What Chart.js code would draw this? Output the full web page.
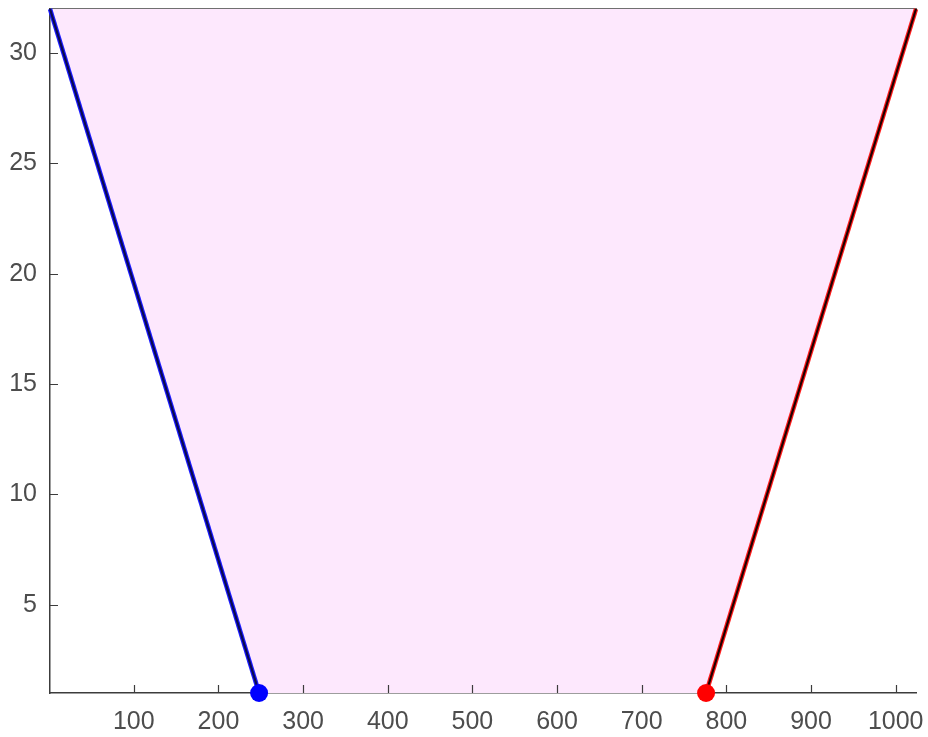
<!DOCTYPE html>
<html>
<head>
<meta charset="utf-8">
<script src="https://cdn.jsdelivr.net/npm/chart.js@4"></script>
<style>
  html, body { margin: 0; padding: 0; background: #fff; }
  #wrap { width: 928px; height: 737px; }
</style>
</head>
<body>
<div id="wrap"><canvas id="c" width="928" height="737"></canvas></div>
<script>
// x/y of the two edges of the shaded region
const leftEdgeX = [1, 248];
const leftEdgeY = [32, 1];
const rightEdgeX = [776, 1024];
const rightEdgeY = [1, 32];
const xTicks = [100, 200, 300, 400, 500, 600, 700, 800, 900, 1000];
const yTicks = [5, 10, 15, 20, 25, 30];
const xRange = [1, 1024];
const yRange = [1, 32];

const pts = (xs, ys) => xs.map((x, i) => ({ x, y: ys[i] }));
const regionPts = pts(leftEdgeX.concat(rightEdgeX), leftEdgeY.concat(rightEdgeY));

// short tick marks pointing into the plot, like the original
const innerTicks = {
  id: 'innerTicks',
  afterDatasetsDraw(chart) {
    const { ctx, scales: { x, y } } = chart;
    ctx.save();
    ctx.strokeStyle = '#3c3c3c';
    ctx.lineWidth = 1.2;
    ctx.beginPath();
    xTicks.forEach(v => {
      const px = Math.round(x.getPixelForValue(v)) + 0.5;
      ctx.moveTo(px, y.bottom);
      ctx.lineTo(px, y.bottom - 8);
    });
    yTicks.forEach(v => {
      const py = Math.round(y.getPixelForValue(v)) + 0.5;
      ctx.moveTo(x.left, py);
      ctx.lineTo(x.left + 8, py);
    });
    ctx.stroke();
    ctx.restore();
  }
};

const axisFont = { family: '"Liberation Sans", Arial, sans-serif', size: 25 };
const noPad = s => { s.paddingLeft = 0; s.paddingRight = 0; s.paddingTop = 0; s.paddingBottom = 0; };

new Chart(document.getElementById('c'), {
  type: 'scatter',
  data: {
    datasets: [
      // dots at the lower ends
      { data: [{ x: leftEdgeX[1], y: leftEdgeY[1] }], pointRadius: 9, pointBackgroundColor: '#0000ff', pointBorderWidth: 0, clip: false },
      { data: [{ x: rightEdgeX[0], y: rightEdgeY[0] }], pointRadius: 9, pointBackgroundColor: '#ff0000', pointBorderWidth: 0, clip: false },
      // dark core of the edges
      { data: pts(leftEdgeX, leftEdgeY), showLine: true, borderColor: '#0a0a50', borderWidth: 2.2, pointRadius: 0, clip: false },
      { data: pts(rightEdgeX, rightEdgeY), showLine: true, borderColor: '#200000', borderWidth: 2.2, pointRadius: 0, clip: false },
      // coloured halo of the edges
      { data: pts(leftEdgeX, leftEdgeY), showLine: true, borderColor: '#1a1aff', borderWidth: 4.5, pointRadius: 0, clip: false },
      { data: pts(rightEdgeX, rightEdgeY), showLine: true, borderColor: '#ff1a1a', borderWidth: 4.5, pointRadius: 0, clip: false },
      // shaded region
      { data: regionPts, showLine: true, borderWidth: 0, borderColor: 'rgba(0,0,0,0)', pointRadius: 0,
        backgroundColor: 'rgb(253,232,253)', fill: { value: yRange[1] } }
    ]
  },
  options: {
    responsive: false,
    animation: false,
    layout: { padding: { top: 9, right: 12, left: 0, bottom: 0 } },
    plugins: { legend: { display: false }, tooltip: { enabled: false } },
    scales: {
      x: {
        type: 'linear',
        min: xRange[0], max: xRange[1],
        afterBuildTicks: s => { s.ticks = xTicks.map(v => ({ value: v })); },
        afterFit: s => { s.height = 44; noPad(s); },
        grid: { display: false, drawTicks: false },
        border: { display: true, color: '#3c3c3c', width: 1.5 },
        ticks: { color: '#4d4d4d', font: axisFont, padding: 14, maxRotation: 0, callback: v => String(v) }
      },
      xTop: {
        type: 'linear', position: 'top',
        min: xRange[0], max: xRange[1],
        afterFit: s => { s.height = 0; noPad(s); },
        grid: { display: false, drawTicks: false },
        border: { display: true, color: '#707070', width: 2.5 },
        ticks: { display: false }
      },
      y: {
        type: 'linear',
        min: yRange[0], max: yRange[1],
        afterBuildTicks: s => { s.ticks = yTicks.map(v => ({ value: v })); },
        afterFit: s => { s.width = 50; noPad(s); },
        grid: { display: false, drawTicks: false },
        border: { display: true, color: '#3c3c3c', width: 1.5 },
        ticks: { color: '#4d4d4d', font: axisFont, padding: 13, callback: v => String(v) }
      }
    }
  },
  plugins: [innerTicks]
});
</script>
</body>
</html>
